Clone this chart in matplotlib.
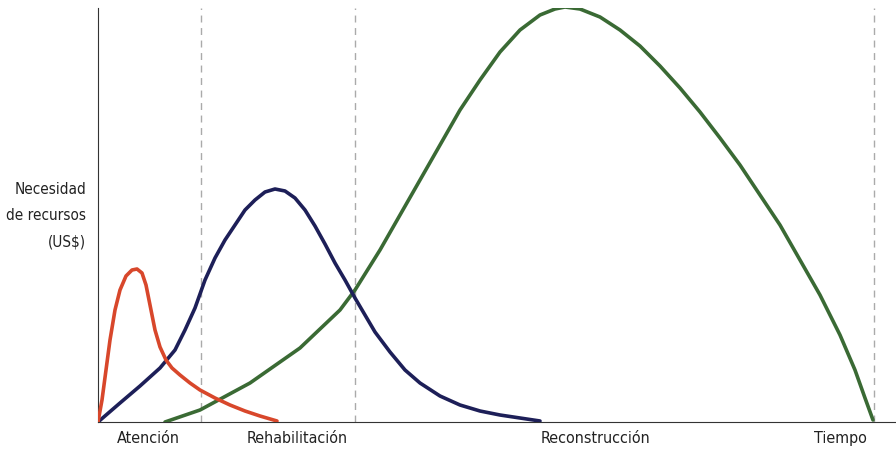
import matplotlib
matplotlib.use("Agg")
import matplotlib.pyplot as plt

plt.rcParams['font.family'] = ['DejaVu Sans']

# curve points (x: time, y: resource need, pixel-like units)
atencion_x = [0, 4, 8, 12, 17, 22, 28, 34, 39, 44, 48, 52, 57, 62, 68, 74, 82, 92, 102, 117, 132, 147, 162, 179]
atencion_y = [0, 22, 52, 82, 112, 132, 146, 152, 153, 149, 137, 117, 92, 75, 62, 54, 47, 39, 32, 24, 17, 11, 6, 1]

rehab_x = [0, 22, 42, 62, 77, 87, 97, 107, 117, 127, 137, 147, 157, 167, 177, 187, 197, 207, 217,
           227, 237, 247, 257, 267, 277, 292, 307, 322, 342, 362, 382, 402, 422, 442]
rehab_y = [0, 19, 36, 54, 72, 92, 114, 142, 164, 182, 197, 212, 222, 230, 233, 231, 224, 212, 196,
           178, 159, 142, 124, 107, 90, 70, 52, 39, 26, 17, 11, 7, 4, 1]

recon_x = [67, 102, 152, 202, 242, 257, 282, 302, 322, 342, 362, 382, 402, 422, 442, 457, 467, 482,
           502, 522, 542, 562, 582, 602, 622, 642, 662, 682, 702, 722, 742, 757, 767, 775]
recon_y = [0, 12, 39, 74, 112, 132, 172, 207, 242, 277, 312, 342, 370, 392, 407, 413, 415, 413,
           405, 392, 376, 356, 334, 310, 284, 257, 227, 197, 162, 127, 87, 52, 24, 2]

phase_lines = [103, 257, 776]
phase_labels = ['Atención', 'Rehabilitación', 'Reconstrucción', 'Tiempo']
phase_label_x = [50, 199, 498, 742]

fig = plt.figure(figsize=(8.96, 4.54), dpi=100)
ax = fig.add_axes([98 / 896, 32 / 454, 798 / 896, 414 / 454])
ax.set_xlim(0, 798)
ax.set_ylim(0, 414)

for x in phase_lines:
    ax.axvline(x, color='#aaaaaa', lw=1, ls=(0, (5, 4)), zorder=1)

kw = dict(lw=2.6, solid_capstyle='round', solid_joinstyle='round', zorder=3)
ax.plot(recon_x, recon_y, color='#3a6a34', **kw)
ax.plot(rehab_x, rehab_y, color='#1d1f58', **kw)
ax.plot(atencion_x, atencion_y, color='#d8472b', **kw)

for s in ['top', 'right']:
    ax.spines[s].set_visible(False)
ax.spines['left'].set_color('#333333')
ax.spines['bottom'].set_color('#333333')
ax.set_xticks([])
ax.set_yticks([])

for lbl, x in zip(phase_labels, phase_label_x):
    ax.text(x, -9, lbl, ha='center', va='top', fontsize=11.5, color='#222222',
            fontstretch='condensed', clip_on=False)

ax.text(-12, 206, 'Necesidad\nde recursos\n(US$)', ha='right', va='center',
        fontsize=11, color='#222222', fontstretch='condensed', linespacing=1.95)

fig.savefig('out.png', dpi=100)
